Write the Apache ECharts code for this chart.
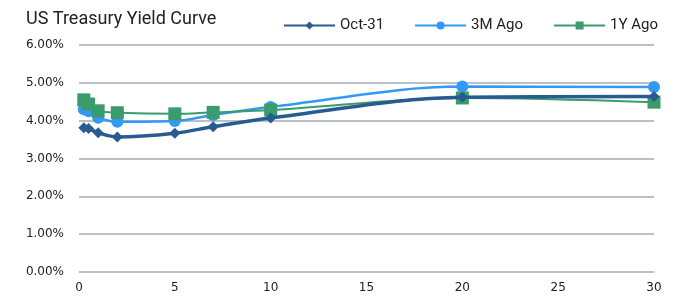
<!DOCTYPE html>
<html>
<head>
<meta charset="utf-8">
<script src="https://cdn.jsdelivr.net/npm/echarts@6/dist/echarts.min.js"></script>
<style>
  html, body { margin: 0; padding: 0; background: #fff; }
  #chart { width: 681px; height: 299px; }
</style>
</head>
<body>
<div id="chart"></div>
<script>
// maturities in years
const maturities = [0.25, 0.5, 1, 2, 5, 7, 10, 20, 30]
const oct31 = [3.81, 3.79, 3.68, 3.57, 3.67, 3.84, 4.07, 4.62, 4.64]
const ago3m = [4.30, 4.25, 4.08, 3.97, 3.99, 4.15, 4.36, 4.90, 4.89]
const ago1y = [4.55, 4.44, 4.26, 4.21, 4.18, 4.22, 4.28, 4.60, 4.49]
const seriesNames = ['Oct-31', '3M Ago', '1Y Ago']

const pairs = (vals) => maturities.map((m, i) => [m, vals[i]])

let myChart = echarts.init(document.getElementById('chart'))
const gridColor = '#bcc0c6'
const option = {
  animation: false,
  title: {
    text: 'US Treasury Yield Curve',
    left: 21,
    top: 5,
    textStyle: { fontFamily: 'Roboto', fontSize: 18, fontWeight: 'normal', color: '#222' }
  },
  legend: {
    data: seriesNames,
    top: 13,
    left: 278,
    itemWidth: 51,
    itemHeight: 10,
    itemGap: 30,
    textStyle: { fontFamily: 'Roboto', fontSize: 15, color: '#222' }
  },
  grid: { left: 79, right: 27, top: 45, bottom: 27 },
  xAxis: {
    type: 'value',
    min: 0,
    max: 30,
    interval: 5,
    axisLine: { show: false },
    axisTick: { show: false },
    splitLine: { show: false },
    axisLabel: { fontFamily: 'DejaVu Sans', fontSize: 12, color: '#222', margin: 10 }
  },
  yAxis: {
    type: 'value',
    min: 0,
    max: 6,
    interval: 1,
    axisLine: { show: false },
    axisTick: { show: false },
    splitLine: { lineStyle: { color: gridColor, width: 2 } },
    axisLabel: {
      fontFamily: 'DejaVu Sans', fontSize: 12, color: '#222', margin: 15,
      formatter: (v) => v.toFixed(2) + '%'
    }
  },
  series: [
    {
      name: '1Y Ago',
      type: 'line',
      smooth: 0.35,
      data: pairs(ago1y),
      symbol: 'rect',
      symbolSize: 13,
      z: 3,
      itemStyle: { color: '#3a9b6c' },
      lineStyle: { width: 2 }
    },
    {
      name: '3M Ago',
      type: 'line',
      smooth: 0.35,
      data: pairs(ago3m),
      symbol: 'circle',
      symbolSize: 12,
      z: 2,
      itemStyle: { color: '#3399f5' },
      lineStyle: { width: 2.5 }
    },
    {
      name: 'Oct-31',
      type: 'line',
      smooth: 0.35,
      data: pairs(oct31),
      symbol: 'diamond',
      symbolSize: 11,
      z: 4,
      itemStyle: { color: '#285c91' },
      lineStyle: { width: 3.5 }
    }
  ]
}
myChart.setOption(option)
</script>
</body>
</html>
